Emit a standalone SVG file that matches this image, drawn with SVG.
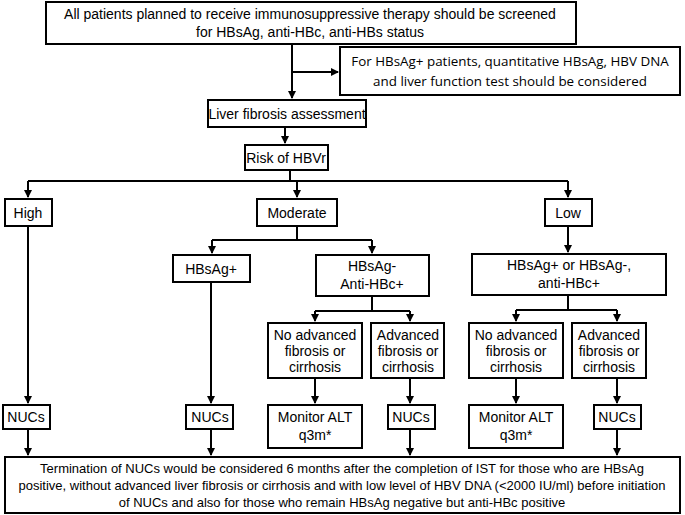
<svg xmlns="http://www.w3.org/2000/svg" width="685" height="515" viewBox="0 0 685 515">
<defs>
<marker id="a" markerWidth="8" markerHeight="8" refX="7" refY="4" orient="auto" markerUnits="userSpaceOnUse"><path d="M0,0 L8,4 L0,8 z" fill="#000"/></marker>
<style>
rect{fill:#fff;stroke:#000;stroke-width:2}
text{font-family:"Liberation Sans",Arial,sans-serif;font-size:14px;fill:#000;text-anchor:middle}
.q{font-family:"Open Sans","Noto Sans",sans-serif;font-size:13.4px}
.b{font-size:13px}
.c path{fill:none;stroke:#000;stroke-width:2}
</style>
</defs>
<rect width="685" height="515" style="stroke:none"/>
<g class="c">
<path d="M292,44 V98" marker-end="url(#a)"/>
<path d="M292,72 H338" marker-end="url(#a)"/>
<path d="M285,127 V143" marker-end="url(#a)"/>
<path d="M290,170 V181 M28,181 H568"/>
<path d="M28,181 V197" marker-end="url(#a)"/>
<path d="M297,181 V197" marker-end="url(#a)"/>
<path d="M568,181 V197" marker-end="url(#a)"/>
<path d="M297,226 V240 M212,240 H372"/>
<path d="M212,240 V253" marker-end="url(#a)"/>
<path d="M372,240 V253" marker-end="url(#a)"/>
<path d="M568,226 V252" marker-end="url(#a)"/>
<path d="M372,296 V311 M315,311 H410"/>
<path d="M315,311 V321" marker-end="url(#a)"/>
<path d="M410,311 V321" marker-end="url(#a)"/>
<path d="M568,295 V310 M516,310 H617"/>
<path d="M516,310 V321" marker-end="url(#a)"/>
<path d="M617,310 V321" marker-end="url(#a)"/>
<path d="M28,226 V403" marker-end="url(#a)"/>
<path d="M211,282 V403" marker-end="url(#a)"/>
<path d="M315,378 V403" marker-end="url(#a)"/>
<path d="M410,378 V403" marker-end="url(#a)"/>
<path d="M516,378 V403" marker-end="url(#a)"/>
<path d="M617,378 V403" marker-end="url(#a)"/>
<path d="M28,429 V455" marker-end="url(#a)"/>
<path d="M211,429 V455" marker-end="url(#a)"/>
<path d="M410,429 V455" marker-end="url(#a)"/>
<path d="M617,429 V455" marker-end="url(#a)"/>
</g>
<g id="top"><rect x="46" y="2" width="530" height="42"/><text x="310" y="19">All patients planned to receive immunosuppressive therapy should be screened</text><text x="310" y="37">for HBsAg, anti-HBc, anti-HBs status</text></g>
<g id="quant"><rect x="340" y="47" width="340" height="48"/><text class="q" x="510" y="66">For HBsAg+ patients, quantitative HBsAg, HBV DNA</text><text class="q" x="510" y="86">and liver function test should be considered</text></g>
<g id="fib"><rect x="208" y="100" width="158" height="27"/><text x="287" y="119">Liver fibrosis assessment</text></g>
<g id="risk"><rect x="245" y="145" width="83" height="25"/><text x="286" y="163">Risk of HBVr</text></g>
<g id="high"><rect x="5" y="199" width="47" height="27"/><text x="28" y="218">High</text></g>
<g id="mod"><rect x="257" y="199" width="80" height="27"/><text x="297" y="218">Moderate</text></g>
<g id="low"><rect x="545" y="199" width="47" height="27"/><text x="568" y="218">Low</text></g>
<g id="hbsag"><rect x="173" y="255" width="77" height="27"/><text x="211" y="274">HBsAg+</text></g>
<g id="hbsagneg"><rect x="316" y="255" width="113" height="41"/><text x="372" y="271">HBsAg-</text><text x="372" y="289">Anti-HBc+</text></g>
<g id="lowbox"><rect x="472" y="254" width="194" height="41"/><text x="569" y="270">HBsAg+ or HBsAg-,</text><text x="569" y="288">anti-HBc+</text></g>
<g id="na1"><rect x="268" y="323" width="94" height="55"/><text x="315" y="340">No advanced</text><text x="315" y="356">fibrosis or</text><text x="315" y="372">cirrhosis</text></g>
<g id="ad1"><rect x="371" y="323" width="73" height="55"/><text x="408" y="340">Advanced</text><text x="408" y="356">fibrosis or</text><text x="408" y="372">cirrhosis</text></g>
<g id="na2"><rect x="469" y="323" width="94" height="55"/><text x="516" y="340">No advanced</text><text x="516" y="356">fibrosis or</text><text x="516" y="372">cirrhosis</text></g>
<g id="ad2"><rect x="572" y="323" width="74" height="55"/><text x="609" y="340">Advanced</text><text x="609" y="356">fibrosis or</text><text x="609" y="372">cirrhosis</text></g>
<g id="n1"><rect x="3" y="405" width="47" height="24"/><text x="26" y="422">NUCs</text></g>
<g id="n2"><rect x="186" y="405" width="47" height="24"/><text x="210" y="422">NUCs</text></g>
<g id="m1"><rect x="268" y="405" width="94" height="43"/><text x="315" y="422">Monitor ALT</text><text x="315" y="440">q3m*</text></g>
<g id="n3"><rect x="388" y="405" width="47" height="24"/><text x="411" y="422">NUCs</text></g>
<g id="m2"><rect x="469" y="405" width="94" height="43"/><text x="516" y="422">Monitor ALT</text><text x="516" y="440">q3m*</text></g>
<g id="n4"><rect x="594" y="405" width="47" height="24"/><text x="617" y="422">NUCs</text></g>
<g id="term"><rect x="5" y="457" width="675" height="56"/>
<text class="b" x="342" y="473">Termination of NUCs would be considered 6 months after the completion of IST for those who are HBsAg</text>
<text class="b" x="342" y="490">positive, without advanced liver fibrosis or cirrhosis and with low level of HBV DNA (&lt;2000 IU/ml) before initiation</text>
<text class="b" x="342" y="507">of NUCs and also for those who remain HBsAg negative but anti-HBc positive</text>
</g>
</svg>
